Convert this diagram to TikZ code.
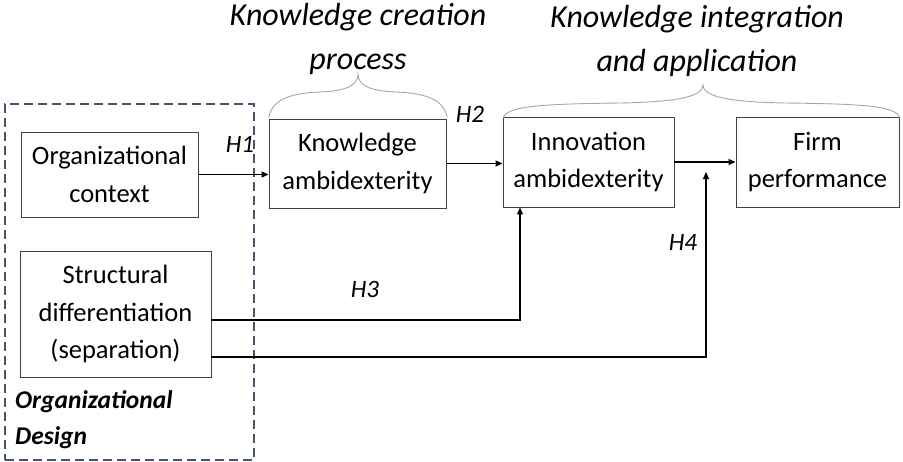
\documentclass[tikz,border=0pt]{standalone}
\usepackage{fontspec}
\setmainfont{Carlito}
\usetikzlibrary{arrows.meta}
\definecolor{dashblue}{HTML}{44546A}
\definecolor{boxline}{HTML}{404040}
\definecolor{bracegray}{HTML}{A6A6A6}
\begin{document}
\begin{tikzpicture}[x=1pt,y=-1pt,
  box/.style={draw=boxline, line width=0.9pt, fill=white, inner sep=0pt, align=center, font=\fontsize{26.5}{37.5}\selectfont},
  conn/.style={line width=1.1pt, -{Triangle[length=7pt,width=6pt]}},
  hlab/.style={font=\fontsize{25}{29}\selectfont\itshape, inner sep=0pt},
  toplab/.style={font=\fontsize{32}{44}\selectfont\itshape, align=center, inner sep=0pt},
  bracestyle/.style={draw=bracegray, line width=0.9pt},
  groupbox/.style={draw=dashblue, line width=1.2pt, dash pattern=on 9pt off 5pt, inner sep=0pt}
]
\useasboundingbox (0,0) rectangle (903,461);

% organizational design group
\node[groupbox, minimum width=249pt, minimum height=356pt] (od) at (129.5,282) {};
\node[anchor=west, align=left, inner sep=0pt, font=\fontsize{25.5}{36}\selectfont\bfseries\itshape] (odlab) at (15,420) {Organizational\\Design};

% boxes
\node[box, minimum width=177pt, minimum height=85pt] (oc) at (109.5,174.5) {Organizational\\context};
\node[box, minimum width=177pt, minimum height=89pt] (kb) at (357.5,163.5) {Knowledge\\ambidexterity};
\node[box, minimum width=171pt, minimum height=90pt] (ib) at (588.5,162) {Innovation\\ambidexterity};
\node[box, minimum width=163pt, minimum height=90pt] (fp) at (817.5,162) {Firm\\performance};
\node[box, minimum width=191pt, minimum height=126pt] (sd) at (115.5,314) {Structural\\differentiation\\(separation)};

% top labels
\node[toplab] (kcp) at (358,39) {Knowledge creation\\process};
\node[toplab] (kia) at (697,41) {Knowledge integration\\and application};

% braces
\draw[bracestyle] (269,117) .. controls (272,100) and (290,93) .. (320,92) .. controls (345,91) and (358,86) .. (358,74) .. controls (358,86) and (371,91) .. (396,92) .. controls (426,93) and (444,100) .. (447,117);
\draw[bracestyle] (503,118) .. controls (507,106) and (540,104) .. (620,103) .. controls (680,102) and (703,96) .. (703,85) .. controls (703,96) and (726,102) .. (786,103) .. controls (866,104) and (896,106) .. (900,118);

% connectors
\draw[conn] (oc.east) -- (oc.east -| kb.west);
\draw[conn] (kb.east) -- (kb.east -| ib.west);
\draw[conn] (ib.east) -- (ib.east -| fp.west);
\coordinate (h3c) at (520,320);
\coordinate (h4c) at (706,357);
\coordinate (h4t) at (706,172);
\draw[conn] (sd.east |- h3c) -- (h3c) -- (h3c |- ib.south);
\draw[conn] (sd.east |- h4c) -- (h4c) -- (h4t);

% hypothesis labels
\node[hlab] (h1) at (240,144) {H1};
\node[hlab] (h2) at (470,114) {H2};
\node[hlab] (h3) at (365,289) {H3};
\node[hlab] (h4) at (683,242) {H4};
\end{tikzpicture}
\end{document}
